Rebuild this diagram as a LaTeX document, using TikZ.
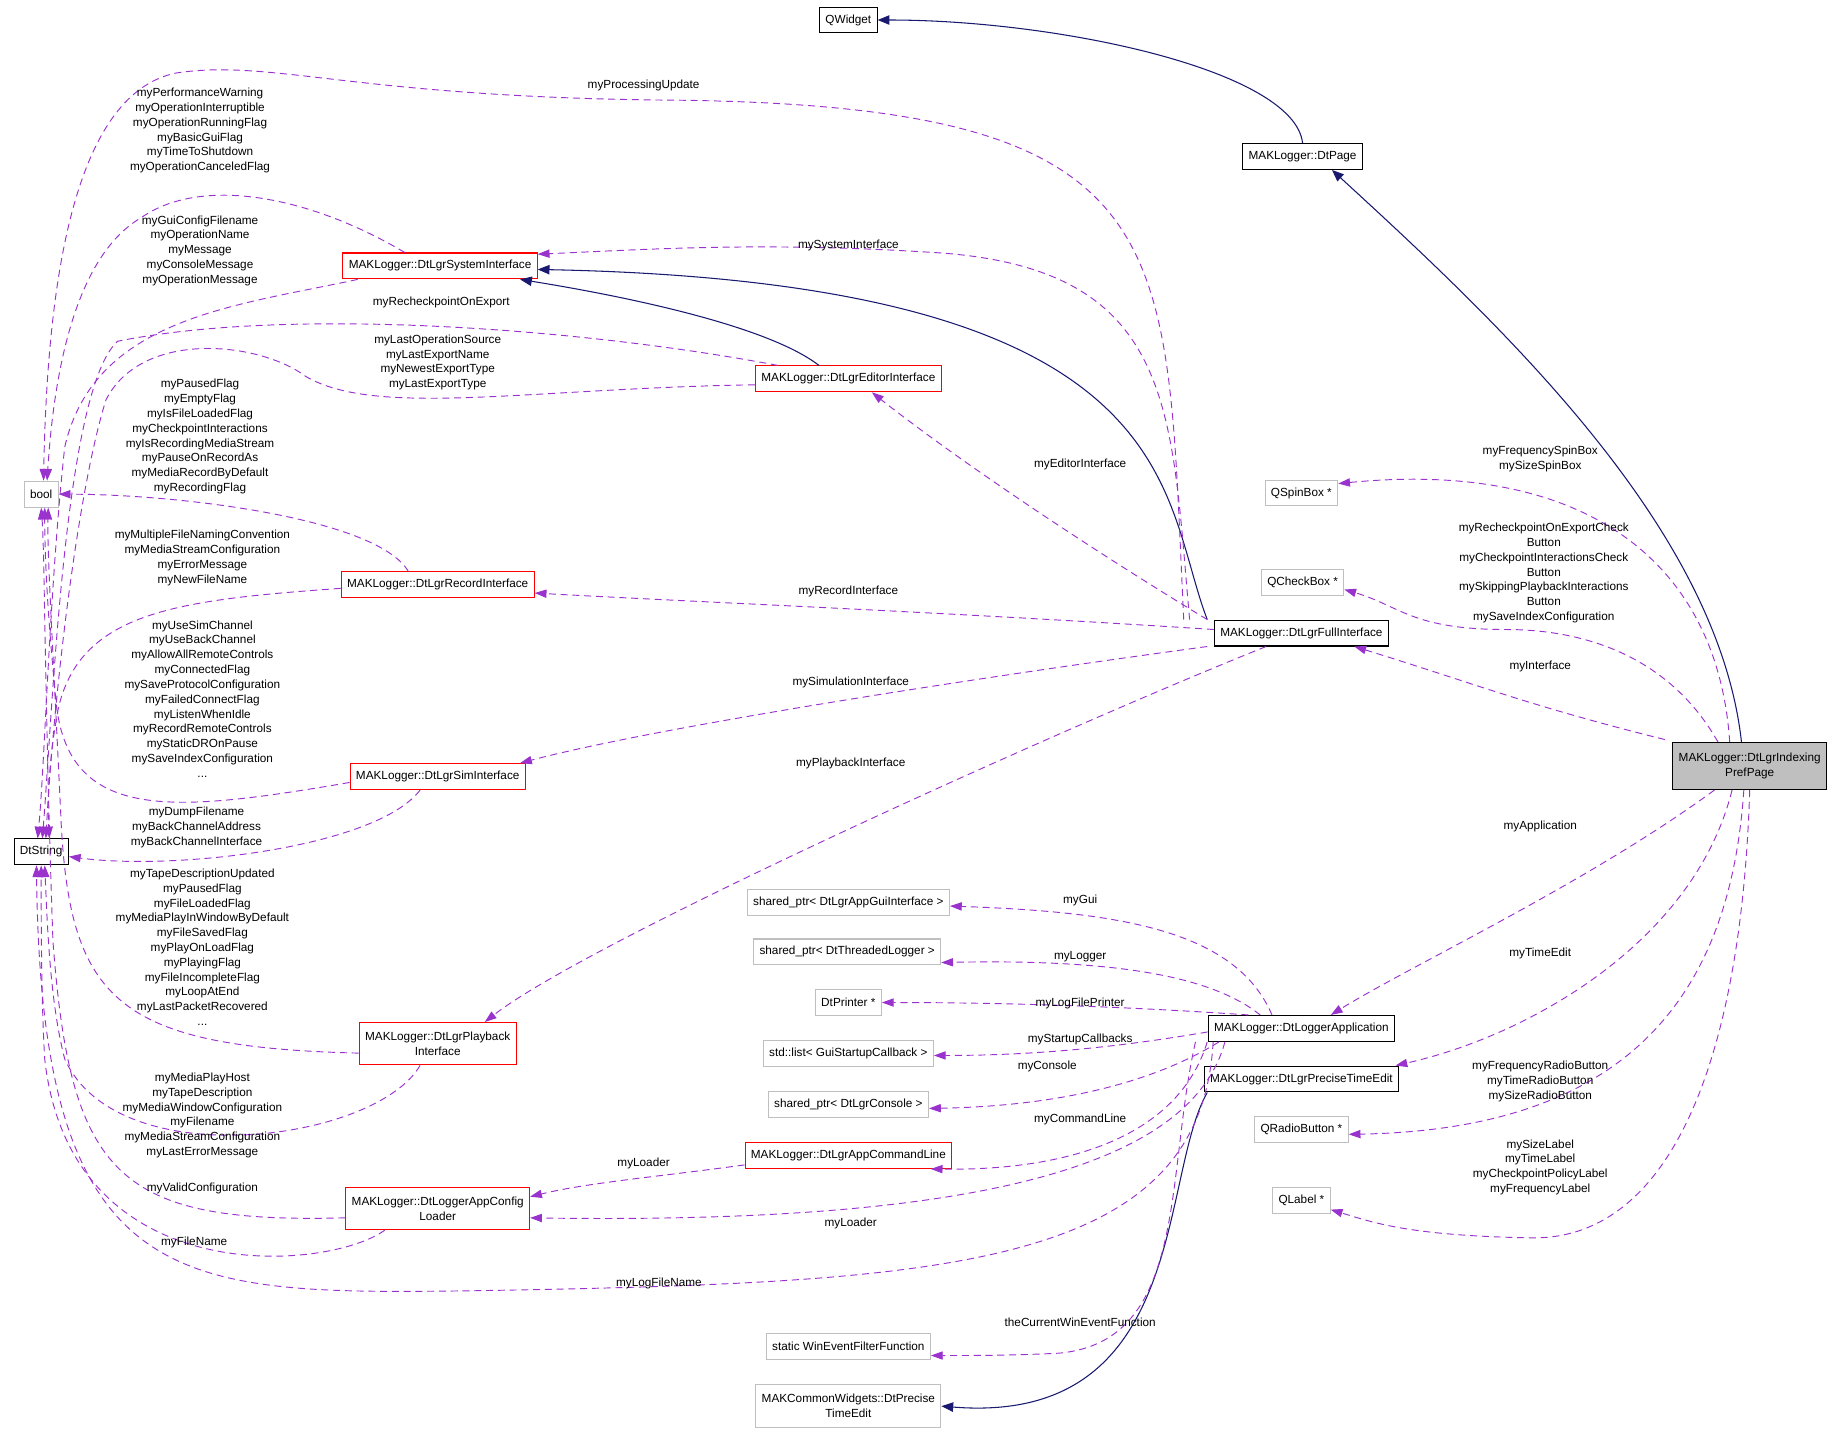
\documentclass[tikz,border=0pt]{standalone}
\usepackage{fontspec}
\setmainfont{Liberation Sans}
\usetikzlibrary{arrows.meta}
\definecolor{dep}{HTML}{9A32CD}
\definecolor{inh}{HTML}{191970}
\definecolor{gry}{HTML}{BFBFBF}
\newcommand{\labfont}{\fontsize{10}{12.6}\selectfont}
\begin{document}
\begin{tikzpicture}[x=1pt,y=-1pt,
  box/.style={draw=black, fill=white, font=\labfont, align=center, inner xsep=5pt, inner ysep=2pt, minimum height=22pt, line width=0.9pt},
  rbox/.style={box, draw=red},
  gbox/.style={box, draw=gry},
  d/.style={draw=dep, line width=0.8pt, dash pattern=on 6pt off 4pt, -{Triangle[length=10pt,width=7pt,fill=dep]}},
  i/.style={draw=inh, line width=0.9pt, -{Triangle[length=10pt,width=8pt,fill=inh]}},
  l/.style={font=\labfont, align=center, inner sep=0pt}]
\useasboundingbox (0,0) rectangle (1568,1218);
% nodes
\node[box] (qw) at (721,17) {QWidget};
\node[box] (page) at (1107,133) {MAKLogger::DtPage};
\node[rbox] (sys) at (374,226) {MAKLogger::DtLgrSystemInterface};
\node[rbox] (edit) at (721,322) {MAKLogger::DtLgrEditorInterface};
\node[gbox] (bool) at (35,420) {bool};
\node[rbox] (rec) at (372,497) {MAKLogger::DtLgrRecordInterface};
\node[box] (full) at (1106,538) {MAKLogger::DtLgrFullInterface};
\node[gbox] (spin) at (1106,419) {QSpinBox *};
\node[gbox] (check) at (1107,495) {QCheckBox *};
\node[box, fill=gry, minimum height=40pt] (pref) at (1487,651) {MAKLogger::DtLgrIndexing\\PrefPage};
\node[rbox] (sim) at (372,660) {MAKLogger::DtLgrSimInterface};
\node[box] (str) at (35,724) {DtString};
\node[gbox] (gui) at (721,767) {shared\_ptr< DtLgrAppGuiInterface >};
\node[gbox] (tlog) at (720,809) {shared\_ptr< DtThreadedLogger >};
\node[gbox] (prn) at (721,852) {DtPrinter *};
\node[box] (app) at (1106,874) {MAKLogger::DtLoggerApplication};
\node[gbox] (lst) at (721,895) {std::list< GuiStartupCallback >};
\node[rbox, minimum height=36pt] (play) at (372,887) {MAKLogger::DtLgrPlayback\\Interface};
\node[box] (pte) at (1106,917) {MAKLogger::DtLgrPreciseTimeEdit};
\node[gbox] (con) at (721,939) {shared\_ptr< DtLgrConsole >};
\node[gbox] (radio) at (1106,960) {QRadioButton *};
\node[rbox] (cmd) at (721,982) {MAKLogger::DtLgrAppCommandLine};
\node[rbox, minimum height=36pt] (ldr) at (372,1027) {MAKLogger::DtLoggerAppConfig\\Loader};
\node[gbox] (qlab) at (1106,1020) {QLabel *};
\node[gbox] (win) at (721,1144) {static WinEventFilterFunction};
\node[gbox, minimum height=36pt] (mcw) at (721,1195) {MAKCommonWidgets::DtPrecise\\TimeEdit};
% inheritance
\draw[i] (page.north) .. controls (1100,60) and (900,17) .. (qw.east);
\draw[i] ([xshift=-7]pref.north) .. controls (1460,450) and (1280,280) .. ([xshift=25]page.south);
\draw[i] ([xshift=-80]full.north) .. controls (985,420) and (1010,240) .. ([yshift=-3]sys.east);
\draw[i] ([xshift=-25]edit.north) .. controls (650,275) and (520,250) .. ([xshift=-15]sys.south east);
\draw[i] ([xshift=-80]pte.south) .. controls (985,1000) and (1010,1212) .. (mcw.east);
% dependencies
\draw[d] ([xshift=-100]full.north) .. controls (990,200) and (1010,88) .. (560,85) .. controls (300,82) and (230,50) .. (150,62) .. controls (60,80) and (40,250) .. ([xshift=2]bool.north);
\draw[d] ([xshift=-30]sys.north) .. controls (260,165) and (170,150) .. (120,185) .. controls (60,220) and (45,330) .. ([xshift=5]bool.north);
\draw[d] ([xshift=-70]sys.south) .. controls (200,260) and (80,270) .. (55,380) .. controls (42,500) and (38,650) .. ([xshift=-3]str.north);
\draw[d] ([xshift=-60]edit.north) .. controls (500,280) and (250,260) .. (100,290) .. controls (55,330) and (45,600) .. ([xshift=1]str.north);
\draw[d] ([yshift=-5]edit.west) .. controls (450,330) and (320,355) .. (260,320) .. controls (220,290) and (120,280) .. (90,340) .. controls (65,420) and (45,600) .. ([xshift=4]str.north);
\draw[d] ([xshift=-25]rec.north) .. controls (320,440) and (150,420) .. (bool.east);
\draw[d] ([yshift=-3]rec.west) .. controls (150,510) and (70,520) .. (50,600) .. controls (42,640) and (40,680) .. ([xshift=7]str.north);
\draw[d] ([yshift=-5]sim.west) .. controls (150,690) and (60,700) .. (48,600) .. controls (40,520) and (38,470) .. ([xshift=3]bool.south);
\draw[d] ([xshift=-15]sim.south) .. controls (320,720) and (150,740) .. ([yshift=-4]str.east);
\draw[d] ([yshift=-8]play.west) .. controls (100,890) and (60,850) .. (52,700) .. controls (45,550) and (40,470) .. ([xshift=6]bool.south);
\draw[d] ([xshift=-15]play.south) .. controls (320,970) and (100,1000) .. (55,900) .. controls (42,850) and (40,780) .. ([xshift=3]str.south);
\draw[d] ([yshift=-8]ldr.west) .. controls (100,1040) and (60,1000) .. (45,800) .. controls (38,600) and (38,470) .. (bool.south);
\draw[d] ([xshift=-45]ldr.south) .. controls (280,1080) and (60,1100) .. (38,900) .. controls (35,850) and (35,780) .. (str.south);
\draw[d] ([xshift=-75]app.south) .. controls (1020,1080) and (800,1090) .. (400,1097) .. controls (150,1100) and (35,1100) .. ([xshift=-4]str.south);
\draw[d] ([xshift=-65]app.south) .. controls (1010,1000) and (800,1040) .. ([yshift=-8]ldr.east);
\draw[d] ([yshift=-8]cmd.west) .. controls (560,1000) and (500,1005) .. ([yshift=10]ldr.east);
\draw[d] ([xshift=-80]app.south) .. controls (1000,970) and (900,995) .. ([xshift=70]cmd.south);
\draw[d] ([xshift=-70]app.south) .. controls (980,920) and (900,940) .. ([yshift=-3]con.east);
\draw[d] ([yshift=-3]app.west) .. controls (950,890) and (880,897) .. ([yshift=-2]lst.east);
\draw[d] ([xshift=-45]app.north) .. controls (950,855) and (850,852) .. (prn.east);
\draw[d] ([xshift=-35]app.north) .. controls (1030,830) and (950,815) .. ([yshift=-9]tlog.east);
\draw[d] ([xshift=-25]app.north) .. controls (1050,790) and (950,775) .. ([yshift=-3]gui.east);
\draw[d] ([xshift=-90]app.south) .. controls (990,1000) and (1010,1140) .. (900,1150) .. controls (860,1152) and (830,1152) .. ([yshift=-8]win.east);
\draw[d] ([xshift=-95]full.north) .. controls (995,350) and (1000,230) .. (800,215) .. controls (650,205) and (550,212) .. ([yshift=10]sys.east);
\draw[d] ([xshift=-80]full.north) .. controls (900,450) and (800,380) .. ([xshift=20]edit.south);
\draw[d] ([yshift=3]full.west) .. controls (800,520) and (600,512) .. ([yshift=-7]rec.east);
\draw[d] ([xshift=-80]full.south) .. controls (800,580) and (550,620) .. ([xshift=70]sim.north);
\draw[d] ([xshift=-30]full.south) .. controls (900,620) and (500,800) .. ([xshift=40]play.north);
\draw[d] ([xshift=-72,yshift=2]pref.north) .. controls (1300,600) and (1250,580) .. ([xshift=45]full.south);
\draw[d] ([xshift=-17]pref.north) .. controls (1460,480) and (1350,390) .. ([yshift=8]spin.east);
\draw[d] ([xshift=-27]pref.north) .. controls (1420,560) and (1350,535) .. (1280,535) .. controls (1200,535) and (1190,515) .. ([yshift=-6]check.east);
\draw[d] ([xshift=-30]pref.south) .. controls (1350,750) and (1200,820) .. ([xshift=25]app.north);
\draw[d] ([xshift=-15]pref.south) .. controls (1440,800) and (1300,880) .. ([xshift=80]pte.north);
\draw[d] ([xshift=-5]pref.south) .. controls (1470,850) and (1380,960) .. ([yshift=-4]radio.east);
\draw[d] ([xshift=0]pref.south) .. controls (1480,900) and (1420,1055) .. (1300,1052) .. controls (1200,1050) and (1170,1040) .. ([yshift=-8]qlab.east);
% labels
\node[l] at (547,73) {myProcessingUpdate};
\node[l] at (170,111) {myPerformanceWarning\\myOperationInterruptible\\myOperationRunningFlag\\myBasicGuiFlag\\myTimeToShutdown\\myOperationCanceledFlag};
\node[l] at (170,213) {myGuiConfigFilename\\myOperationName\\myMessage\\myConsoleMessage\\myOperationMessage};
\node[l] at (375,257) {myRecheckpointOnExport};
\node[l] at (372,308) {myLastOperationSource\\myLastExportName\\myNewestExportType\\myLastExportType};
\node[l] at (170,371) {myPausedFlag\\myEmptyFlag\\myIsFileLoadedFlag\\myCheckpointInteractions\\myIsRecordingMediaStream\\myPauseOnRecordAs\\myMediaRecordByDefault\\myRecordingFlag};
\node[l] at (172,474) {myMultipleFileNamingConvention\\myMediaStreamConfiguration\\myErrorMessage\\myNewFileName};
\node[l] at (172,594) {myUseSimChannel\\myUseBackChannel\\myAllowAllRemoteControls\\myConnectedFlag\\mySaveProtocolConfiguration\\myFailedConnectFlag\\myListenWhenIdle\\myRecordRemoteControls\\myStaticDROnPause\\mySaveIndexConfiguration\\...};
\node[l] at (167,703) {myDumpFilename\\myBackChannelAddress\\myBackChannelInterface};
\node[l] at (172,805) {myTapeDescriptionUpdated\\myPausedFlag\\myFileLoadedFlag\\myMediaPlayInWindowByDefault\\myFileSavedFlag\\myPlayOnLoadFlag\\myPlayingFlag\\myFileIncompleteFlag\\myLoopAtEnd\\myLastPacketRecovered\\...};
\node[l] at (172,948) {myMediaPlayHost\\myTapeDescription\\myMediaWindowConfiguration\\myFilename\\myMediaStreamConfiguration\\myLastErrorMessage};
\node[l] at (172,1010) {myValidConfiguration};
\node[l] at (165,1056) {myFileName};
\node[l] at (560,1091) {myLogFileName};
\node[l] at (547,989) {myLoader};
\node[l] at (723,1040) {myLoader};
\node[l] at (918,951) {myCommandLine};
\node[l] at (890,906) {myConsole};
\node[l] at (918,883) {myStartupCallbacks};
\node[l] at (918,853) {myLogFilePrinter};
\node[l] at (918,813) {myLogger};
\node[l] at (918,765) {myGui};
\node[l] at (918,1124) {theCurrentWinEventFunction};
\node[l] at (721,209) {mySystemInterface};
\node[l] at (918,395) {myEditorInterface};
\node[l] at (721,503) {myRecordInterface};
\node[l] at (723,580) {mySimulationInterface};
\node[l] at (723,649) {myPlaybackInterface};
\node[l] at (1309,566) {myInterface};
\node[l] at (1309,390) {myFrequencySpinBox\\mySizeSpinBox};
\node[l] at (1312,487) {myRecheckpointOnExportCheck\\Button\\myCheckpointInteractionsCheck\\Button\\mySkippingPlaybackInteractions\\Button\\mySaveIndexConfiguration};
\node[l] at (1309,702) {myApplication};
\node[l] at (1309,810) {myTimeEdit};
\node[l] at (1309,919) {myFrequencyRadioButton\\myTimeRadioButton\\mySizeRadioButton};
\node[l] at (1309,992) {mySizeLabel\\myTimeLabel\\myCheckpointPolicyLabel\\myFrequencyLabel};
\end{tikzpicture}
\end{document}
